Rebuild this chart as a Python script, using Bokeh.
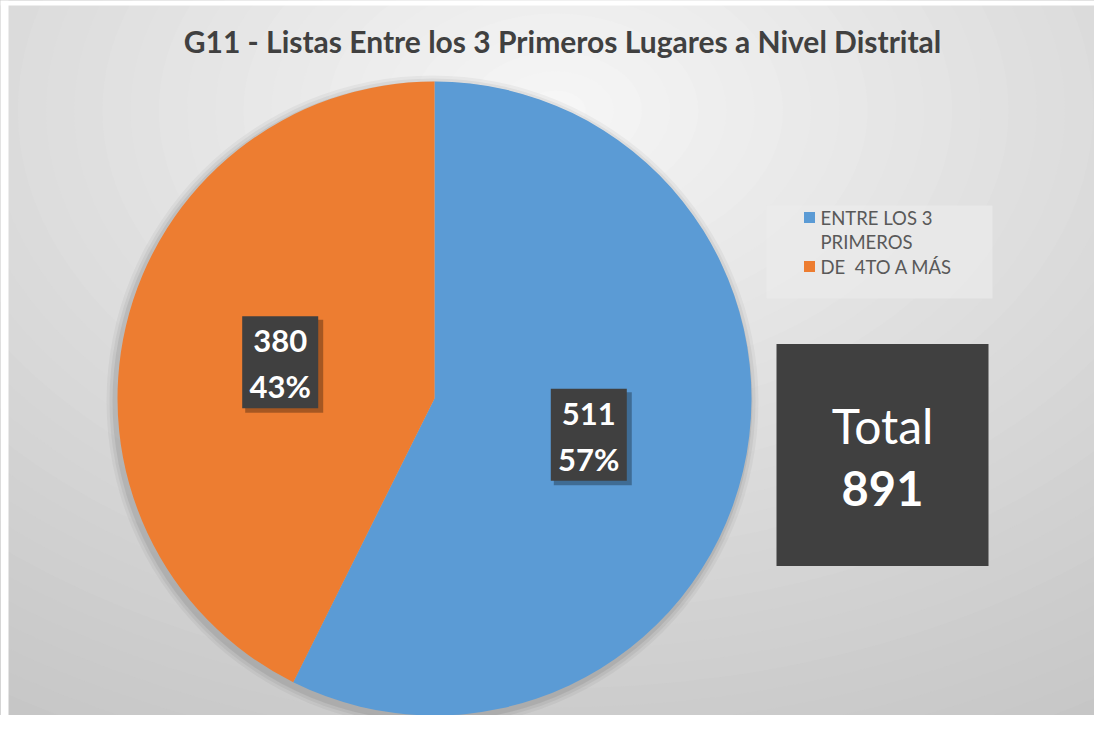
import math
from bokeh.plotting import figure
from bokeh.models import Range1d
from bokeh.embed import file_html
from bokeh.resources import INLINE
from bokeh.core.properties import value

# ---- data ----
title_text = "G11 - Listas Entre los 3 Primeros Lugares a Nivel Distrital"
categories = ["ENTRE LOS 3 PRIMEROS", "DE  4TO A MÁS"]
legend_lines = [["ENTRE LOS 3", "PRIMEROS"], ["DE\u00a0 4TO A MÁS"]]
values = [511, 380]
colors = ["#5B9BD5", "#ED7D31"]
total_label = "Total"

W, H = 1094, 715
FONT = "Lato"


def Y(v):
    return H - v


p = figure(width=W, height=H, x_range=Range1d(0, W), y_range=Range1d(0, H),
           output_backend="svg", toolbar_location=None, min_border=0)
p.axis.visible = False
p.grid.visible = False
p.outline_line_color = None
p.background_fill_color = "#c8c8c8"
p.border_fill_color = "white"

# radial gradient background (styling)
N = 40
cx_bg, cy_bg = 555, Y(110)
c_out = (0xc4, 0xc4, 0xc4)
c_in = (0xf6, 0xf6, 0xf6)
for i in range(N):
    t = i / (N - 1)
    s = 1 - t
    col = tuple(int(c_out[k] + (c_in[k] - c_out[k]) * (t ** 1.1)) for k in range(3))
    p.ellipse(x=[cx_bg], y=[cy_bg], width=[2200 * s + 60], height=[1500 * s + 40],
              fill_color="#%02x%02x%02x" % col, line_color=None)

# white page strips of the original image
p.quad(left=[0, 0], right=[8, W], bottom=[0, Y(5)], top=[H, H],
       fill_color="white", line_color=None)

# title
p.text(x=[562], y=[Y(40)], text=[title_text], text_font=value(FONT),
       text_font_style="bold", text_font_size="30px", text_color="#404040",
       text_align="center", text_baseline="middle")

# pie
cx, cy, R = 434, Y(398), 317
total = sum(values)
for r_extra, a in [(9, 0.04), (6, 0.05), (3, 0.07)]:
    p.circle(x=[cx - 2], y=[cy - 3], radius=R + r_extra, fill_color="black",
             fill_alpha=a, line_color=None)

starts, ends = [], []
cum = 0
for v in values:
    starts.append(math.pi / 2 - cum / total * 2 * math.pi)
    cum += v
    ends.append(math.pi / 2 - cum / total * 2 * math.pi)
p.wedge(x=[cx] * len(values), y=[cy] * len(values), radius=R,
        start_angle=starts, end_angle=ends, direction="clock",
        fill_color=colors, line_color=None)

# data labels
for v, s, e in zip(values, starts, ends):
    mid = (s + e) / 2
    lx = cx + 0.5 * R * math.cos(mid)
    ly = cy + 0.5 * R * math.sin(mid)
    p.rect(x=[lx + 4], y=[ly - 4], width=78, height=93, width_units="screen",
           height_units="screen", fill_color="black", fill_alpha=0.3, line_color=None)
    p.rect(x=[lx], y=[ly], width=76, height=92, width_units="screen",
           height_units="screen", fill_color="#404040", line_color=None)
    pct = "%d%%" % round(v / total * 100)
    p.text(x=[lx, lx], y=[ly + 21, ly - 24], text=[str(v), pct], text_font=value(FONT),
           text_font_style="bold", text_font_size="31px", text_color="white",
           text_align="center", text_baseline="middle")

# total box
tx, ty = 882, Y(454.5)
p.rect(x=[tx], y=[ty], width=212, height=222, fill_color="#404040", line_color=None)
p.text(x=[tx], y=[Y(425)], text=[total_label], text_font=value(FONT),
       text_font_size="48px", text_color="white", text_align="center",
       text_baseline="middle")
p.text(x=[tx], y=[Y(488)], text=[str(total)], text_font=value(FONT),
       text_font_style="bold", text_font_size="47px", text_color="white",
       text_align="center", text_baseline="middle")

# legend
p.rect(x=[879], y=[Y(251.5)], width=226, height=93,
       fill_color="#ebebeb", fill_alpha=0.7, line_color=None)
line_y = Y(217)
for lines, col in zip(legend_lines, colors):
    p.rect(x=[809], y=[line_y], width=11, height=11, fill_color=col, line_color=None)
    for ln in lines:
        p.text(x=[820], y=[line_y], text=[ln], text_font=value(FONT),
               text_font_size="18.5px", text_color="#595959", text_align="left",
               text_baseline="middle")
        line_y -= 24.5

open("out.html", "w").write(file_html(p, INLINE))
